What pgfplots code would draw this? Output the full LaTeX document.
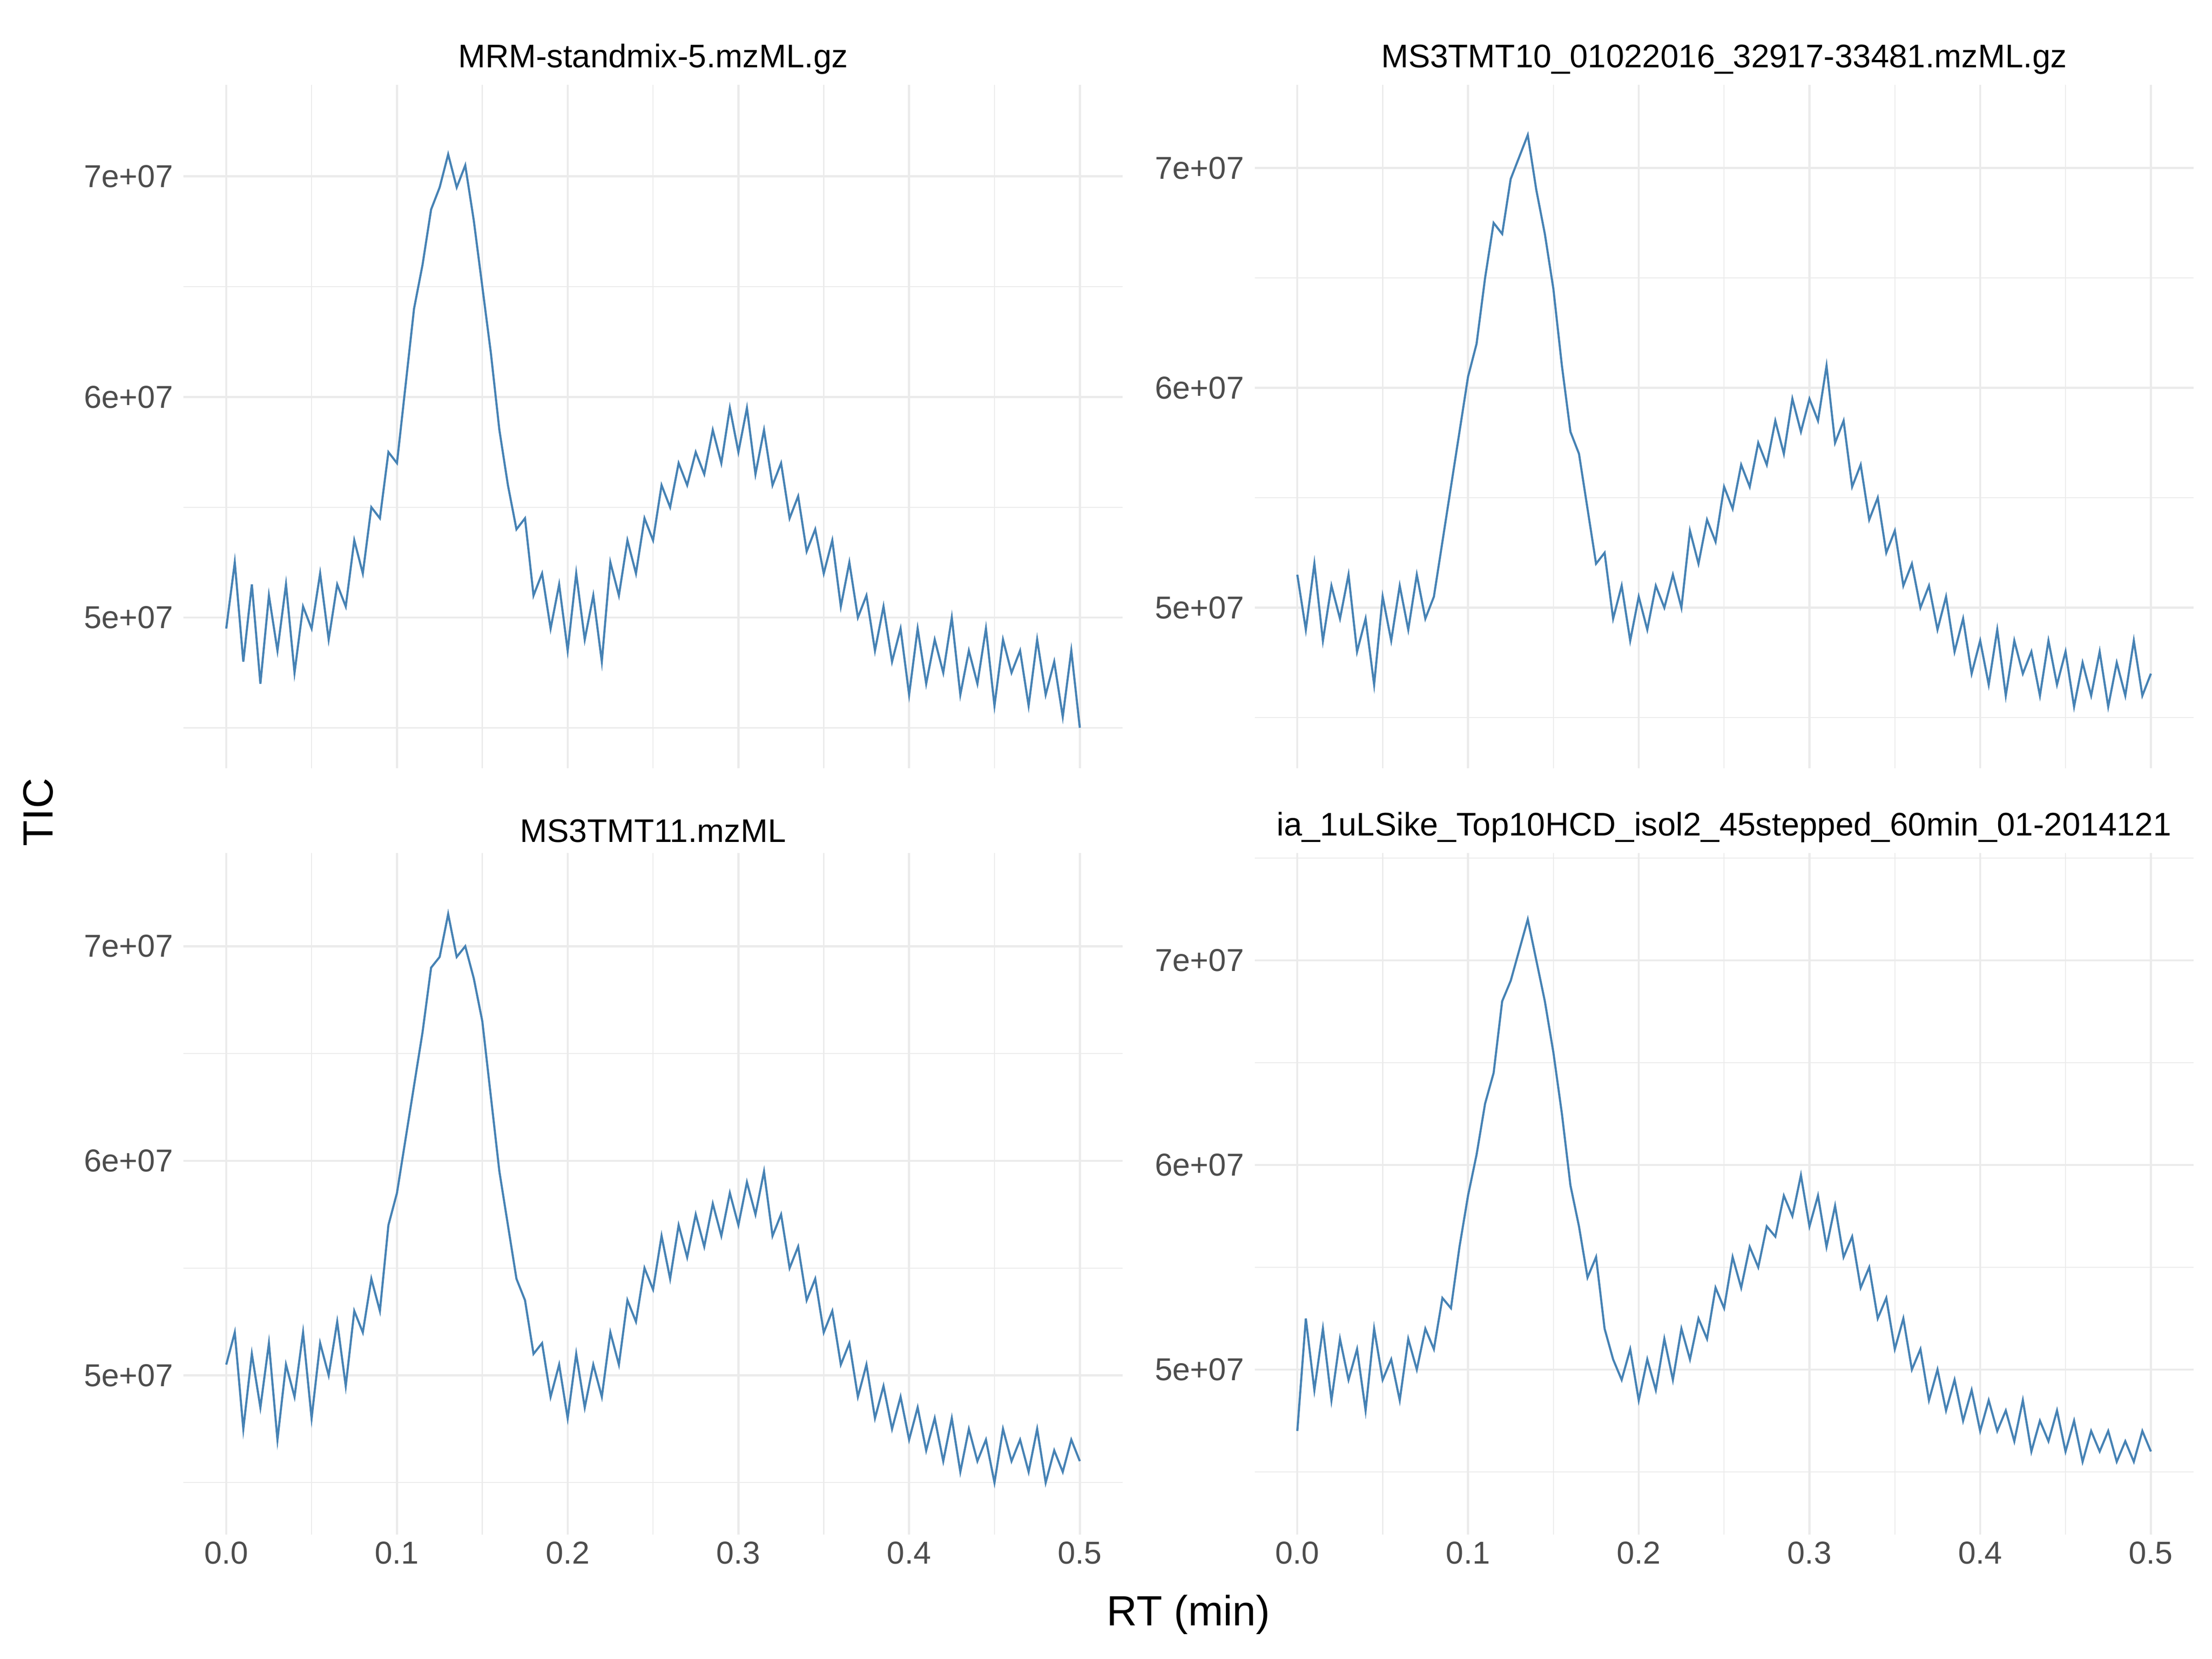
\documentclass[border=0pt]{standalone}
\usepackage{pgfplots}
\usepackage{pgfplotstable}
\pgfplotsset{compat=1.18}
\usepackage{fontspec}
\setmainfont{Liberation Sans}
\definecolor{steel}{RGB}{70,130,180}
\definecolor{gridc}{RGB}{235,235,235}
\definecolor{tickc}{RGB}{77,77,77}
\pgfplotstableread{
x a b c d
0.000 4.95 5.15 5.05 4.70
0.005 5.25 4.90 5.20 5.25
0.010 4.80 5.20 4.75 4.90
0.015 5.15 4.85 5.10 5.20
0.020 4.70 5.10 4.85 4.85
0.025 5.10 4.95 5.15 5.15
0.030 4.85 5.15 4.70 4.95
0.035 5.15 4.80 5.05 5.10
0.040 4.75 4.95 4.90 4.80
0.045 5.05 4.65 5.20 5.20
0.050 4.95 5.05 4.80 4.95
0.055 5.20 4.85 5.15 5.05
0.060 4.90 5.10 5.00 4.85
0.065 5.15 4.90 5.25 5.15
0.070 5.05 5.15 4.95 5.00
0.075 5.35 4.95 5.30 5.20
0.080 5.20 5.05 5.20 5.10
0.085 5.50 5.30 5.45 5.35
0.090 5.45 5.55 5.30 5.30
0.095 5.75 5.80 5.70 5.60
0.100 5.70 6.05 5.85 5.85
0.105 6.05 6.20 6.10 6.05
0.110 6.40 6.50 6.35 6.30
0.115 6.60 6.75 6.60 6.45
0.120 6.85 6.70 6.90 6.80
0.125 6.95 6.95 6.95 6.90
0.130 7.10 7.05 7.15 7.05
0.135 6.95 7.15 6.95 7.20
0.140 7.05 6.90 7.00 7.00
0.145 6.80 6.70 6.85 6.80
0.150 6.50 6.45 6.65 6.55
0.155 6.20 6.10 6.30 6.25
0.160 5.85 5.80 5.95 5.90
0.165 5.60 5.70 5.70 5.70
0.170 5.40 5.45 5.45 5.45
0.175 5.45 5.20 5.35 5.55
0.180 5.10 5.25 5.10 5.20
0.185 5.20 4.95 5.15 5.05
0.190 4.95 5.10 4.90 4.95
0.195 5.15 4.85 5.05 5.10
0.200 4.85 5.05 4.80 4.85
0.205 5.20 4.90 5.10 5.05
0.210 4.90 5.10 4.85 4.90
0.215 5.10 5.00 5.05 5.15
0.220 4.80 5.15 4.90 4.95
0.225 5.25 5.00 5.20 5.20
0.230 5.10 5.35 5.05 5.05
0.235 5.35 5.20 5.35 5.25
0.240 5.20 5.40 5.25 5.15
0.245 5.45 5.30 5.50 5.40
0.250 5.35 5.55 5.40 5.30
0.255 5.60 5.45 5.65 5.55
0.260 5.50 5.65 5.45 5.40
0.265 5.70 5.55 5.70 5.60
0.270 5.60 5.75 5.55 5.50
0.275 5.75 5.65 5.75 5.70
0.280 5.65 5.85 5.60 5.65
0.285 5.85 5.70 5.80 5.85
0.290 5.70 5.95 5.65 5.75
0.295 5.95 5.80 5.85 5.95
0.300 5.75 5.95 5.70 5.70
0.305 5.95 5.85 5.90 5.85
0.310 5.65 6.10 5.75 5.60
0.315 5.85 5.75 5.95 5.80
0.320 5.60 5.85 5.65 5.55
0.325 5.70 5.55 5.75 5.65
0.330 5.45 5.65 5.50 5.40
0.335 5.55 5.40 5.60 5.50
0.340 5.30 5.50 5.35 5.25
0.345 5.40 5.25 5.45 5.35
0.350 5.20 5.35 5.20 5.10
0.355 5.35 5.10 5.30 5.25
0.360 5.05 5.20 5.05 5.00
0.365 5.25 5.00 5.15 5.10
0.370 5.00 5.10 4.90 4.85
0.375 5.10 4.90 5.05 5.00
0.380 4.85 5.05 4.80 4.80
0.385 5.05 4.80 4.95 4.95
0.390 4.80 4.95 4.75 4.75
0.395 4.95 4.70 4.90 4.90
0.400 4.65 4.85 4.70 4.70
0.405 4.95 4.65 4.85 4.85
0.410 4.70 4.90 4.65 4.70
0.415 4.90 4.60 4.80 4.80
0.420 4.75 4.85 4.60 4.65
0.425 5.00 4.70 4.80 4.85
0.430 4.65 4.80 4.55 4.60
0.435 4.85 4.60 4.75 4.75
0.440 4.70 4.85 4.60 4.65
0.445 4.95 4.65 4.70 4.80
0.450 4.60 4.80 4.50 4.60
0.455 4.90 4.55 4.75 4.75
0.460 4.75 4.75 4.60 4.55
0.465 4.85 4.60 4.70 4.70
0.470 4.60 4.80 4.55 4.60
0.475 4.90 4.55 4.75 4.70
0.480 4.65 4.75 4.50 4.55
0.485 4.80 4.60 4.65 4.65
0.490 4.55 4.85 4.55 4.55
0.495 4.85 4.60 4.70 4.70
0.500 4.50 4.70 4.60 4.60
}\data
\pgfplotsset{
  panel/.style={
    scale only axis, width=489pt, height=356pt, anchor=south west,
    axis line style={draw=none}, tick style={draw=none},
    xmin=-0.025, xmax=0.525,
    xtick={0,0.1,0.2,0.3,0.4,0.5},
    minor xtick={0.05,0.15,0.25,0.35,0.45},
    ytick={5,6,7}, minor ytick={4.5,5.5,6.5,7.5},
    yticklabels={5e+07,6e+07,7e+07},
    grid=both,
    major grid style={draw=gridc, line width=1.1pt},
    minor grid style={draw=gridc, line width=0.55pt},
    ticklabel style={font=\fontsize{16.5}{19}\selectfont, text=tickc},
    yticklabel style={xshift=-2pt},
    xticklabel style={/pgf/number format/.cd, fixed, fixed zerofill, precision=1},
    /pgf/number format/assume math mode=true,
    title style={font=\fontsize{17}{20}\selectfont, yshift=-4pt},
  },
  noxl/.style={xticklabels={}},
}
\begin{document}
\begin{tikzpicture}
\useasboundingbox (0,0) rectangle (1152pt,864pt);
\begin{axis}[panel, noxl, at={(95.6pt,463.8pt)}, ymin=4.316, ymax=7.415, title={MRM-standmix-5.mzML.gz}]
\addplot[steel, line width=1.1pt] table[x=x,y=a] {\data};
\end{axis}
\begin{axis}[panel, noxl, at={(653.4pt,463.8pt)}, ymin=4.269, ymax=7.378, title={MS3TMT10\_01022016\_32917-33481.mzML.gz}]
\addplot[steel, line width=1.1pt] table[x=x,y=b] {\data};
\end{axis}
\begin{axis}[panel, at={(95.6pt,64.7pt)}, height=355pt, ymin=4.257, ymax=7.434, title={MS3TMT11.mzML}]
\addplot[steel, line width=1.1pt] table[x=x,y=c] {\data};
\end{axis}
\begin{axis}[panel, at={(653.4pt,64.7pt)}, height=355pt, ymin=4.193, ymax=7.524, title={ia\_1uLSike\_Top10HCD\_isol2\_45stepped\_60min\_01-2014121}]
\addplot[steel, line width=1.1pt] table[x=x,y=d] {\data};
\end{axis}
\node[rotate=90, font=\fontsize{22}{26}\selectfont] at (20pt,441pt) {TIC};
\node[font=\fontsize{22}{26}\selectfont] at (619pt,23pt) {RT (min)};
\end{tikzpicture}
\end{document}
